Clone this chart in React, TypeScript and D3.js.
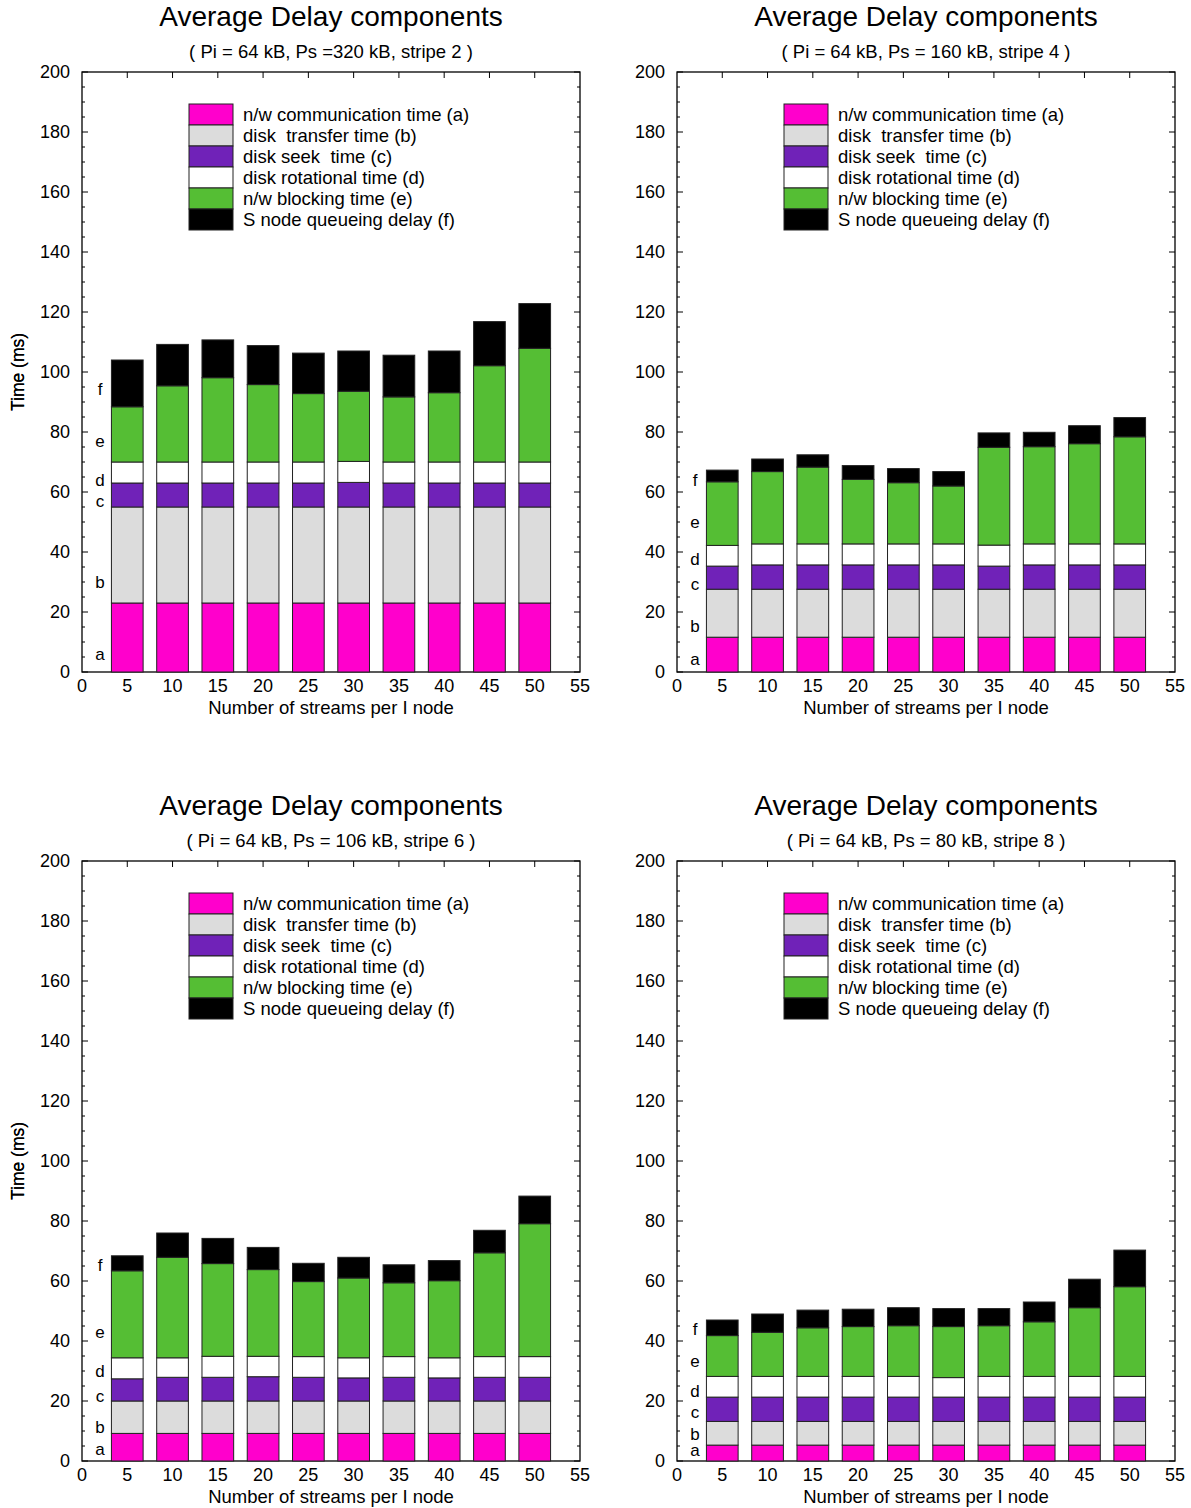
import { useEffect, useRef } from "react";
import * as d3 from "d3";

// data
const streams = [5, 10, 15, 20, 25, 30, 35, 40, 45, 50];
const keys = ["a", "b", "c", "d", "e", "f"];
const legendLabels = [
  "n/w communication time (a)",
  "disk  transfer time (b)",
  "disk seek  time (c)",
  "disk rotational time (d)",
  "n/w blocking time (e)",
  "S node queueing delay (f)",
];
const colors = ["#ff00cc", "#dcdcdc", "#7022b8", "#ffffff", "#55be34", "#000000"];

const titles = ["Average Delay components", "Average Delay components", "Average Delay components", "Average Delay components"];
const subtitles = [
  "( Pi = 64 kB, Ps =320 kB, stripe 2 )",
  "( Pi = 64 kB, Ps = 160 kB, stripe 4 )",
  "( Pi = 64 kB, Ps = 106 kB, stripe 6 )",
  "( Pi = 64 kB, Ps = 80 kB, stripe 8 )",
];

// stripe 2
const s2a = [23, 23, 23, 23, 23, 23, 23, 23, 23, 23];
const s2b = [32, 32, 32, 32, 32, 32, 32, 32, 32, 32];
const s2c = [8, 8, 8, 8, 8, 8.2, 8, 8, 8, 8];
const s2d = [7, 7, 7, 7, 7, 7, 7, 7, 7, 7];
const s2e = [18.4, 25.4, 28.1, 25.8, 22.8, 23.4, 21.7, 23.1, 32.1, 37.9];
const s2f = [15.6, 13.8, 12.6, 13.0, 13.5, 13.4, 13.9, 13.9, 14.7, 14.9];
// stripe 4
const s4a = [11.6, 11.6, 11.6, 11.6, 11.6, 11.6, 11.6, 11.6, 11.6, 11.6];
const s4b = [16, 16, 16, 16, 16, 16, 16, 16, 16, 16];
const s4c = [7.7, 8.1, 8.1, 8.1, 8.1, 8.1, 7.7, 8.1, 8.1, 8.1];
const s4d = [6.9, 7, 7, 7, 7, 7, 7, 7, 7, 7];
const s4e = [21.2, 24.1, 25.6, 21.5, 20.4, 19.3, 32.6, 32.4, 33.4, 35.7];
const s4f = [3.9, 4.2, 4.1, 4.6, 4.7, 4.8, 4.8, 4.8, 6.0, 6.4];
// stripe 6
const s6a = [9.2, 9.2, 9.2, 9.2, 9.2, 9.2, 9.2, 9.2, 9.2, 9.2];
const s6b = [10.8, 10.8, 10.8, 10.8, 10.8, 10.8, 10.8, 10.8, 10.8, 10.8];
const s6c = [7.4, 7.9, 7.9, 8.1, 7.9, 7.7, 7.9, 7.7, 7.9, 7.9];
const s6d = [7.0, 6.5, 7.0, 6.8, 6.9, 6.7, 6.9, 6.7, 6.9, 6.9];
const s6e = [29.0, 33.5, 30.9, 28.9, 25.0, 26.6, 24.6, 25.7, 34.6, 44.3];
const s6f = [5.0, 8.1, 8.4, 7.4, 6.1, 6.9, 6.0, 6.7, 7.5, 9.2];
// stripe 8
const s8a = [5.3, 5.3, 5.3, 5.3, 5.3, 5.3, 5.3, 5.3, 5.3, 5.3];
const s8b = [7.9, 7.9, 7.9, 7.9, 7.9, 7.9, 7.9, 7.9, 7.9, 7.9];
const s8c = [8.1, 8.1, 8.1, 8.1, 8.1, 8.1, 8.1, 8.1, 8.1, 8.1];
const s8d = [6.9, 6.9, 6.9, 6.9, 6.9, 6.5, 6.9, 6.9, 6.9, 6.9];
const s8e = [13.6, 14.7, 16.2, 16.6, 16.9, 17.0, 16.9, 18.2, 22.9, 29.9];
const s8f = [5.2, 6.1, 5.9, 5.8, 6.0, 6.0, 5.7, 6.6, 9.5, 12.2];

// y positions of the a..f letters next to the first bar
const letterPos2 = [6, 30, 56.8, 64, 77, 94.2];
const letterPos4 = [4.2, 15.1, 29.2, 37.6, 49.9, 64];
const letterPos6 = [3.9, 11.2, 21.7, 29.8, 42.8, 65.2];
const letterPos8 = [3.5, 9.0, 16.1, 23.3, 33.1, 44];

const yTicks = [0, 20, 40, 60, 80, 100, 120, 140, 160, 180, 200];
const xTicks = [0, 5, 10, 15, 20, 25, 30, 35, 40, 45, 50, 55];

const series = [
  [s2a, s2b, s2c, s2d, s2e, s2f],
  [s4a, s4b, s4c, s4d, s4e, s4f],
  [s6a, s6b, s6c, s6d, s6e, s6f],
  [s8a, s8b, s8c, s8d, s8e, s8f],
];
const letterPos = [letterPos2, letterPos4, letterPos6, letterPos8];

const W = 1191;
const H = 1508;
const plotW = 498;
const plotH = 600;
const origins = [
  [82, 72],
  [677, 72],
  [82, 861],
  [677, 861],
];
const font = "'Liberation Sans', Arial, Helvetica, sans-serif";
const fs = 18.5;

export default function App() {
  const ref = useRef<SVGSVGElement>(null);

  useEffect(() => {
    const svg = d3.select(ref.current);
    svg.selectAll("*").remove();

    const x = d3.scaleLinear().domain([0, 55]).range([0, plotW]);
    const y = d3.scaleLinear().domain([0, 200]).range([plotH, 0]);
    const barW = x(3.5) - x(0);

    series.forEach((cols, p) => {
      const [ox, oy] = origins[p];
      const g = svg.append("g").attr("transform", `translate(${ox},${oy})`);

      const rows = streams.map((s, i) => {
        const r: any = { x: s };
        keys.forEach((k, j) => (r[k] = cols[j][i]));
        return r;
      });
      const stacked = d3.stack().keys(keys)(rows);

      // titles
      g.append("text")
        .attr("x", plotW / 2)
        .attr("y", -46)
        .attr("text-anchor", "middle")
        .attr("font-family", font)
        .attr("font-size", 28)
        .text(titles[p]);
      g.append("text")
        .attr("x", plotW / 2)
        .attr("y", -14)
        .attr("text-anchor", "middle")
        .attr("font-family", font)
        .attr("font-size", fs)
        .text(subtitles[p]);

      // minor and major ticks, left and right
      const minor = d3.range(0, 201, 5);
      g.selectAll(".ym")
        .data(minor)
        .enter()
        .append("path")
        .attr("d", (v) => {
          const len = v % 20 === 0 ? 6 : 3;
          return `M0,${y(v)}h${len}M${plotW},${y(v)}h${-len}`;
        })
        .attr("stroke", "#000")
        .attr("stroke-width", 1);
      g.selectAll(".xm")
        .data(xTicks.slice(1, -1))
        .enter()
        .append("path")
        .attr("d", (v) => `M${x(v)},0v6M${x(v)},${plotH}v-6`)
        .attr("stroke", "#000")
        .attr("stroke-width", 1);

      // tick labels
      g.selectAll(".yl")
        .data(yTicks)
        .enter()
        .append("text")
        .attr("x", -12)
        .attr("y", (v) => y(v))
        .attr("dy", "0.35em")
        .attr("text-anchor", "end")
        .attr("font-family", font)
        .attr("font-size", 18)
        .text((v) => v);
      g.selectAll(".xl")
        .data(xTicks)
        .enter()
        .append("text")
        .attr("x", (v) => x(v))
        .attr("y", plotH + 20)
        .attr("text-anchor", "middle")
        .attr("font-family", font)
        .attr("font-size", 18)
        .text((v) => v);

      // axis titles
      g.append("text")
        .attr("x", plotW / 2)
        .attr("y", plotH + 42)
        .attr("text-anchor", "middle")
        .attr("font-family", font)
        .attr("font-size", fs)
        .text("Number of streams per I node");
      g.append("text")
        .attr("transform", `translate(${-ox + 18},${plotH / 2}) rotate(-90)`)
        .attr("text-anchor", "middle")
        .attr("dy", "0.35em")
        .attr("font-family", font)
        .attr("font-size", 17.5)
        .text("Time (ms)");

      // frame
      g.append("rect")
        .attr("width", plotW)
        .attr("height", plotH)
        .attr("fill", "none")
        .attr("stroke", "#000")
        .attr("stroke-width", 1.3);

      // stacked bars
      g.selectAll(".layer")
        .data(stacked)
        .enter()
        .append("g")
        .attr("fill", (d, i) => colors[i])
        .selectAll("rect")
        .data((d) => d)
        .enter()
        .append("rect")
        .attr("x", (d: any) => x(d.data.x) - barW / 2)
        .attr("y", (d) => y(d[1]))
        .attr("width", barW)
        .attr("height", (d) => y(d[0]) - y(d[1]))
        .attr("stroke", "#222")
        .attr("stroke-width", 1);

      // letters beside first bar
      g.selectAll(".lt")
        .data(keys)
        .enter()
        .append("text")
        .attr("x", x(2))
        .attr("y", (k, i) => y(letterPos[p][i]))
        .attr("dy", "0.33em")
        .attr("text-anchor", "middle")
        .attr("font-family", font)
        .attr("font-size", 17)
        .text((k) => k);

      // legend
      const lg = g.append("g").attr("transform", "translate(107,32)");
      legendLabels.forEach((lab, i) => {
        lg.append("rect")
          .attr("x", 0)
          .attr("y", i * 21)
          .attr("width", 44)
          .attr("height", 21)
          .attr("fill", colors[i])
          .attr("stroke", "#222")
          .attr("stroke-width", 1);
        lg.append("text")
          .attr("x", 54)
          .attr("y", i * 21 + 10.5)
          .attr("dy", "0.35em")
          .attr("font-family", font)
          .attr("font-size", fs)
          .style("white-space", "pre")
          .text(lab);
      });
    });
  }, []);

  return (
    <svg
      ref={ref}
      width={W}
      height={H}
      style={{ position: "absolute", left: 0, top: 0, background: "#fff" }}
    ></svg>
  );
}
